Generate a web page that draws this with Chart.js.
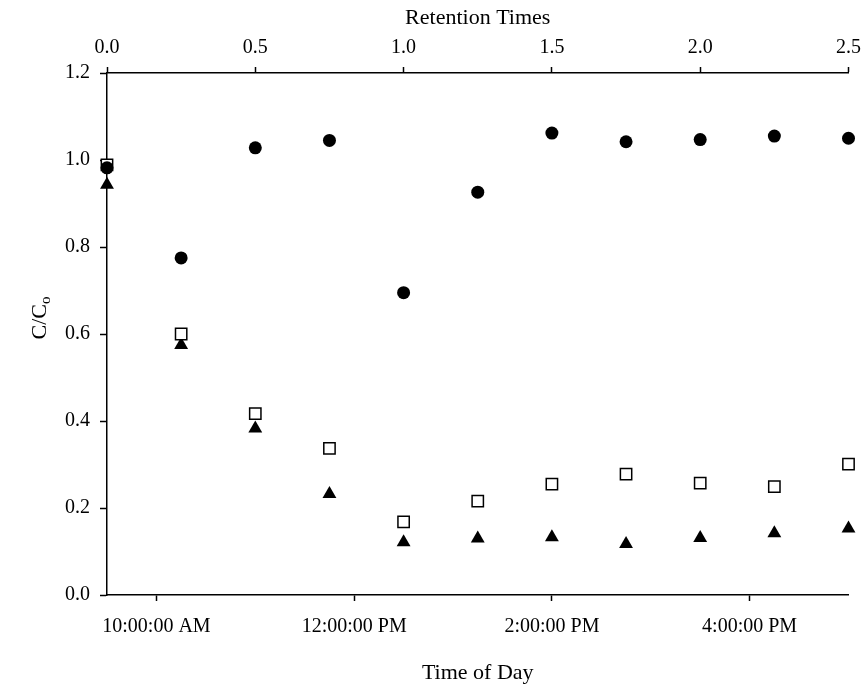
<!DOCTYPE html>
<html>
<head>
<meta charset="utf-8">
<script src="https://cdn.jsdelivr.net/npm/chart.js@4/dist/chart.umd.min.js"></script>
<style>
  body { margin: 0; background: #fff; }
</style>
</head>
<body>
<canvas id="retentionChart" width="868" height="687"></canvas>
<script>
// Data
const retentionTimes = [0.0, 0.25, 0.5, 0.75, 1.0, 1.25, 1.5, 1.75, 2.0, 2.25, 2.5];
const circleValues = [0.982, 0.775, 1.028, 1.045, 0.695, 0.926, 1.062, 1.042, 1.047, 1.055, 1.050];
const squareValues = [0.989, 0.600, 0.417, 0.337, 0.168, 0.216, 0.255, 0.278, 0.257, 0.249, 0.301];
const triangleValues = [0.943, 0.575, 0.383, 0.232, 0.121, 0.130, 0.133, 0.117, 0.131, 0.142, 0.153];

// Bottom axis: clock time in hours
const timeRange = [9.5, 17];
const timeHours = [10, 12, 14, 16];
const timeLabels = ['10:00:00 AM', '12:00:00 PM', '2:00:00 PM', '4:00:00 PM'];

const FONT = 'Liberation Serif, Times New Roman, serif';

/* Pairs retention times with one series */
const toPoints = (values) => values.map((v, i) => ({ x: retentionTimes[i], y: v }));

/* Draws the C/Co y title with a subscript */
const yTitlePlugin = {
    id: 'yTitle',
    afterDraw(chart) {
        const ctx = chart.ctx;
        ctx.save();
        ctx.translate(40, 318);
        ctx.rotate(-Math.PI / 2);
        ctx.fillStyle = '#000';
        ctx.textBaseline = 'middle';
        ctx.font = '22px ' + FONT;
        const main = 'C/C';
        const w = ctx.measureText(main).width;
        ctx.font = '15px ' + FONT;
        const sw = ctx.measureText('o').width;
        const start = -(w + sw) / 2;
        ctx.font = '22px ' + FONT;
        ctx.textAlign = 'left';
        ctx.fillText(main, start, 0);
        ctx.font = '15px ' + FONT;
        ctx.fillText('o', start + w, 6);
        ctx.restore();
    }
};

const init = () => {
    const axisLine = { color: '#000', width: 1.5 };
    const tickGrid = { drawOnChartArea: false, tickLength: 6, tickColor: '#000', tickWidth: 1.5 };
    const tickFont = { family: FONT, size: 20 };
    const titleFont = { family: FONT, size: 22 };

    const config = {
        type: 'scatter',
        data: {
            datasets: [
                {
                    label: 'circles',
                    data: toPoints(circleValues),
                    xAxisID: 'xTop',
                    pointStyle: 'circle',
                    pointRadius: 6.5,
                    backgroundColor: '#000',
                    borderColor: '#000',
                    borderWidth: 0,
                    clip: false
                },
                {
                    label: 'squares',
                    data: toPoints(squareValues),
                    xAxisID: 'xTop',
                    pointStyle: 'rect',
                    pointRadius: 8,
                    backgroundColor: '#fff',
                    borderColor: '#000',
                    borderWidth: 1.5,
                    clip: false
                },
                {
                    label: 'triangles',
                    data: toPoints(triangleValues),
                    xAxisID: 'xTop',
                    pointStyle: 'triangle',
                    pointRadius: 8,
                    backgroundColor: '#000',
                    borderColor: '#000',
                    borderWidth: 0,
                    clip: false
                }
            ]
        },
        options: {
            responsive: false,
            animation: false,
            layout: { padding: { right: 16 } },
            plugins: {
                legend: { display: false },
                tooltip: { enabled: false }
            },
            scales: {
                x: {
                    type: 'linear',
                    position: 'bottom',
                    min: timeRange[0],
                    max: timeRange[1],
                    afterBuildTicks: (scale) => {
                        scale.ticks = timeHours.map(v => ({ value: v }));
                    },
                    ticks: {
                        autoSkip: false,
                        maxRotation: 0,
                        color: '#000',
                        font: tickFont,
                        padding: 14,
                        callback: (value) => timeLabels[timeHours.indexOf(value)]
                    },
                    grid: tickGrid,
                    border: axisLine,
                    title: {
                        display: true,
                        text: 'Time of Day',
                        color: '#000',
                        font: titleFont,
                        padding: { bottom: 1 }
                    },
                    afterFit: (scale) => { scale.height = 92; }
                },
                xTop: {
                    type: 'linear',
                    position: 'top',
                    min: 0,
                    max: 2.5,
                    ticks: {
                        stepSize: 0.5,
                        autoSkip: false,
                        maxRotation: 0,
                        color: '#000',
                        font: tickFont,
                        padding: 7,
                        callback: (value) => value.toFixed(1)
                    },
                    grid: tickGrid,
                    border: axisLine,
                    title: {
                        display: true,
                        text: 'Retention Times',
                        color: '#000',
                        font: titleFont,
                        padding: { top: 5 }
                    },
                    afterFit: (scale) => { scale.height = 73; }
                },
                y: {
                    type: 'linear',
                    min: 0,
                    max: 1.2,
                    ticks: {
                        stepSize: 0.2,
                        color: '#000',
                        font: tickFont,
                        padding: 10,
                        callback: (value) => value.toFixed(1)
                    },
                    grid: { drawOnChartArea: false, tickLength: 7, tickColor: '#000', tickWidth: 1.5 },
                    border: axisLine,
                    afterFit: (scale) => { scale.width = 107; }
                }
            }
        },
        plugins: [yTitlePlugin]
    };

    const ctx = document.getElementById('retentionChart').getContext('2d');
    new Chart(ctx, config);
};

document.addEventListener('DOMContentLoaded', () => {
    init();
});
</script>
</body>
</html>
